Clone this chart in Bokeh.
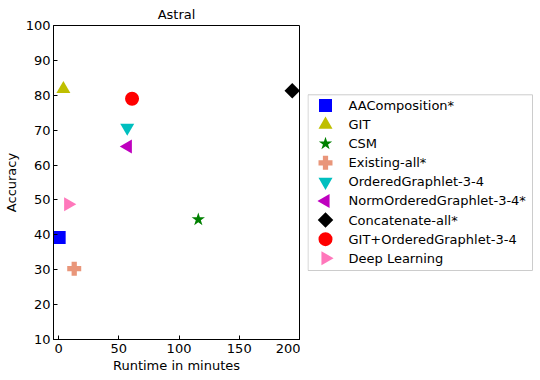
from bokeh.plotting import figure
from bokeh.layouts import row
from bokeh.models import Range1d, FixedTicker, ColumnDataSource
from bokeh.embed import file_html
from bokeh.resources import INLINE

methods = ["AAComposition*", "GIT", "CSM", "Existing-all*", "OrderedGraphlet-3-4",
           "NormOrderedGraphlet-3-4*", "Concatenate-all*", "GIT+OrderedGraphlet-3-4",
           "Deep Learning"]
runtime = [0.5, 4, 116, 13, 57, 57.5, 194, 61, 8]
accuracy = [39.2, 81.8, 44.4, 30.3, 70.7, 65.3, 81.3, 79.0, 48.8]
markers = ["square", "triangle", "star", "plus", "inverted_triangle", "triangle",
           "square", "circle", "triangle"]
angles = [0, 0, 0, 0, 0, 1.5707963, 0.7853982, 0, -1.5707963]
colors = ["#0000ff", "#bfbf00", "#008000", "#e9967a", "#00bfbf", "#bf00bf",
          "#000000", "#ff0000", "#ff77bb"]
sizes = [13, 14, 14, 14, 14, 14, 11, 14, 14]
x_ticks = [0, 50, 100, 150, 200]
y_ticks = [10, 20, 30, 40, 50, 60, 70, 80, 90, 100]

FONT = "DejaVu Sans"
FW, FH = 246, 314

p = figure(frame_width=FW, frame_height=FH, output_backend="svg", toolbar_location=None,
           x_range=Range1d(-4.2, 200), y_range=Range1d(10, 100),
           min_border_left=45, min_border_top=24, min_border_bottom=30, min_border_right=1,
           title="Astral")
p.title.align = "center"
p.title.text_font = FONT
p.title.text_font_size = "13px"
p.title.text_font_style = "normal"
p.title.text_color = "black"
p.title.standoff = 8
p.xgrid.visible = False
p.ygrid.visible = False
p.outline_line_color = "black"
p.outline_line_width = 1
p.outline_line_alpha = 1

for ax in (p.xaxis[0], p.yaxis[0]):
    ax.major_tick_in = 4
    ax.major_tick_out = 0
    ax.minor_tick_in = 0
    ax.minor_tick_out = 0
    ax.axis_line_color = "black"
    ax.major_tick_line_color = "black"
    ax.major_label_text_font = FONT
    ax.major_label_text_font_size = "13px"
    ax.major_label_text_color = "black"
    ax.axis_label_text_font = FONT
    ax.axis_label_text_font_size = "13px"
    ax.axis_label_text_font_style = "normal"
    ax.axis_label_text_color = "black"
p.xaxis.ticker = FixedTicker(ticks=x_ticks)
p.yaxis.ticker = FixedTicker(ticks=y_ticks)
p.xaxis.axis_label = "Runtime in minutes"
p.yaxis.axis_label = "Accuracy"
p.xaxis.major_label_standoff = 4
p.yaxis.major_label_standoff = 3
p.xaxis.axis_label_standoff = 2
p.yaxis.axis_label_standoff = 4

src = ColumnDataSource(dict(x=runtime, y=accuracy, marker=markers, angle=angles,
                            color=colors, size=sizes))
p.scatter("x", "y", source=src, marker="marker", size="size", angle="angle",
          fill_color="color", line_color="color", line_width=0)

# legend panel drawn as its own small figure (pixel-unit ranges)
LW = 225
box_top, box_bottom = FH - 69.3, FH - 245
n = len(methods)
pitch = 19.09
leg_y = [FH - 80 - i * pitch for i in range(n)]
leg_src = ColumnDataSource(dict(x=[18] * n, tx=[41] * n, y=leg_y, label=methods,
                                marker=markers, angle=angles, color=colors, size=sizes))
lg = figure(frame_width=LW + 1, frame_height=FH, output_backend="svg", toolbar_location=None,
            x_range=Range1d(0, LW + 1), y_range=Range1d(0, FH),
            min_border_left=7, min_border_right=0, min_border_top=24, min_border_bottom=30)
lg.axis.visible = False
lg.xgrid.visible = False
lg.ygrid.visible = False
lg.outline_line_color = None
lg.quad(left=[0.5], right=[LW], bottom=[box_bottom], top=[box_top],
        fill_color="white", line_color="#cccccc", line_width=1)
lg.scatter("x", "y", source=leg_src, marker="marker", size="size", angle="angle",
           fill_color="color", line_color="color", line_width=0)
lg.text("tx", "y", text="label", source=leg_src, text_font_size="13px",
        text_baseline="middle", text_align="left", text_color="black",
        text_font={"value": FONT})

layout = row(p, lg)
open("out.html", "w").write(file_html(layout, INLINE))
